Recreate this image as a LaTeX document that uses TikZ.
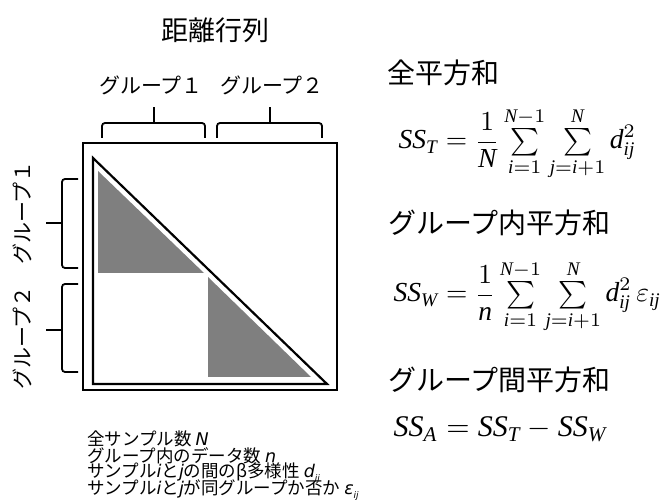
\documentclass[tikz,border=0pt]{standalone}
\usepackage{fontspec}
\setmainfont{Liberation Serif}
\newfontfamily\jp{Noto Sans CJK JP}
\newfontfamily\lat{DejaVu Sans}
\newcommand\lsub[1]{\raisebox{-0.45ex}{\fontsize{9}{9}\selectfont #1}}
\newcommand\mi[1]{\mathit{#1}}
\newcommand\tsum[2]{\mathop{\textstyle\sum\limits_{#1}^{#2}}}
\definecolor{greyfill}{HTML}{7F7F7F}
\begin{document}
\begin{tikzpicture}[x=1pt,y=-1pt,
  title/.style={font=\jp\fontsize{27}{27}\selectfont, inner sep=0pt},
  head/.style={font=\jp\fontsize{28}{28}\selectfont, anchor=west, inner sep=0pt},
  grp/.style={font=\jp\fontsize{21}{21}\selectfont, inner sep=0pt},
  legend/.style={font=\jp\fontsize{17.5}{17.5}\selectfont, anchor=west, inner sep=0pt},
  formula/.style={font=\fontsize{10}{12}\selectfont, scale=2.75, anchor=base west, inner sep=0pt},
  frame/.style={line width=2.2pt},
  brace/.style={line width=1.8pt, rounded corners=3pt}]
\useasboundingbox (0,0) rectangle (662,502);
\fill[white] (0,0) rectangle (662,502);
% title
\node[title] (ttl) at (215,30) {距離行列};
% group labels
\node[grp] (g1) at (151,85) {グループ１};
\node[grp] (g2) at (272,85) {グループ２};
\node[grp, rotate=90] (l1) at (22,213) {グループ１};
\node[grp, rotate=90] (l2) at (22,338) {グループ２};
% braces top
\draw[brace] (102,138) -- (102,123) -- (205,123) -- (205,138);
\draw[line width=1.8pt] (154,123) -- (154,107);
\draw[brace] (217,138) -- (217,123) -- (322,123) -- (322,138);
\draw[line width=1.8pt] (270,123) -- (270,107);
% braces left
\draw[brace] (78,179) -- (62,179) -- (62,268) -- (78,268);
\draw[line width=1.8pt] (62,223) -- (46,223);
\draw[brace] (78,284) -- (62,284) -- (62,372) -- (78,372);
\draw[line width=1.8pt] (62,330) -- (46,330);
% matrix
\draw[frame] (83,143) rectangle (337,390);
\fill[greyfill] (98,171) -- (98,273) -- (204,273) -- cycle;
\fill[greyfill] (208,277) -- (208,377) -- (311,377) -- cycle;
\draw[frame, line join=miter] (93,158) -- (93,384) -- (327,384) -- cycle;
% legend
\node[legend] (n1) at (87,439) {全サンプル数 {\lat\itshape N}};
\node[legend] (n2) at (87,456) {グループ内のデータ数 {\lat\itshape n}};
\node[legend] (n3) at (87,473) {サンプル{\lat\itshape i}と{\lat\itshape j}の間のβ多様性 {\lat\itshape d\lsub{ij}}};
\node[legend] (n4) at (87,490) {サンプル{\lat\itshape i}と{\lat\itshape j}が同グループか否か {\lat\itshape ε\lsub{ij}}};
% right side
\node[head] (h1) at (387,73) {全平方和};
\node[formula] (f1) at (398,149) {$\mi{SS}_{\mi{T}}=\displaystyle\frac{1}{\mi{N}}\tsum{\mi{i}=1}{\mi{N}-1}\tsum{\mi{j}=\mi{i}+1}{\mi{N}}\mi{d}_{\mi{ij}}^{2}$};
\node[head] (h2) at (388,223) {グループ内平方和};
\node[formula] (f2) at (393,302) {$\mi{SS}_{\mi{W}}=\displaystyle\frac{1}{\mi{n}}\tsum{\mi{i}=1}{\mi{N}-1}\tsum{\mi{j}=\mi{i}+1}{\mi{N}}\mi{d}_{\mi{ij}}^{2}\,\varepsilon_{\mi{ij}}$};
\node[head] (h3) at (388,380) {グループ間平方和};
\node[formula, scale=3/2.75] (f3) at (393,437) {$\mi{SS}_{\mi{A}}=\mi{SS}_{\mi{T}}-\mi{SS}_{\mi{W}}$};
\end{tikzpicture}
\end{document}
